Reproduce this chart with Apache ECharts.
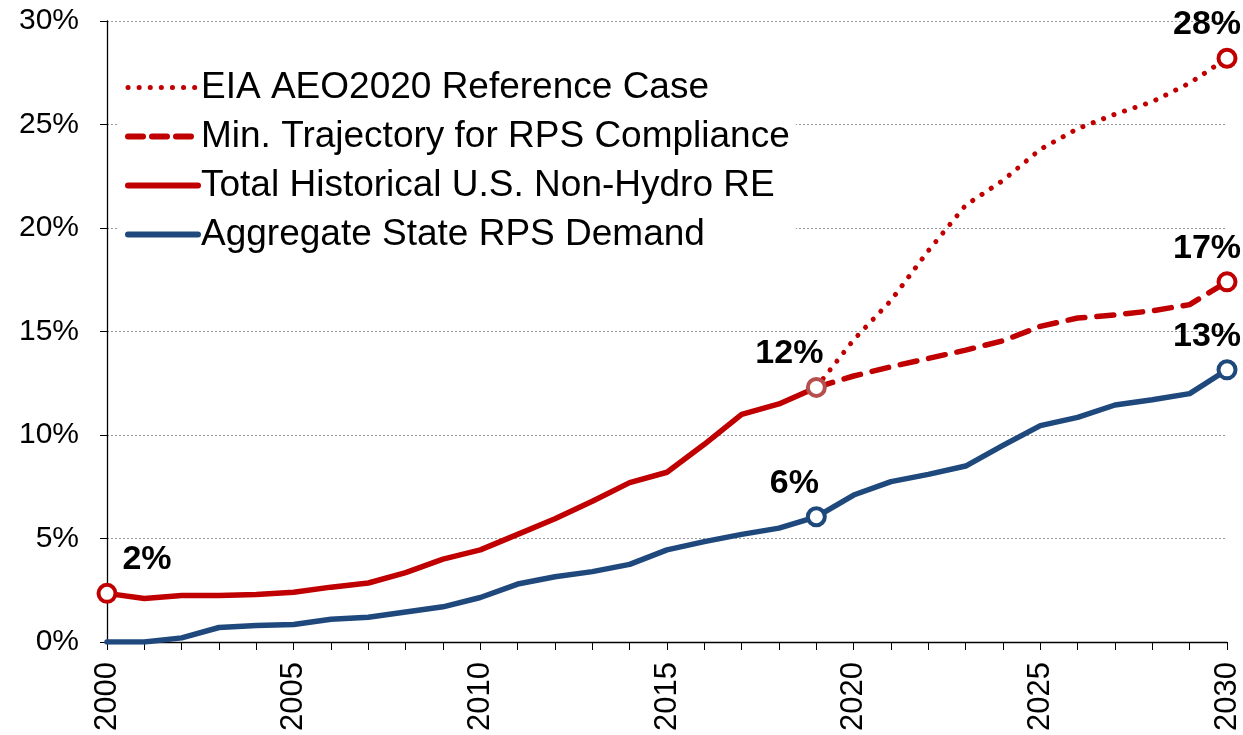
<!DOCTYPE html>
<html>
<head>
<meta charset="utf-8">
<script src="https://cdn.jsdelivr.net/npm/echarts@6/dist/echarts.min.js"></script>
<style>
  html, body { margin: 0; padding: 0; background: #fff; }
  #chart { width: 1243px; height: 735px; }
</style>
</head>
<body>
<div id="chart"></div>
<script>
// years on the x axis
const years = [];
for (let y = 2000; y <= 2030; y++) years.push(String(y));

// values in percent
const historicalRE = [2.35, 2.1, 2.25, 2.25, 2.3, 2.4, 2.65, 2.85, 3.35, 4.0, 4.45, 5.2, 5.95, 6.8, 7.7, 8.2, 9.55, 11.0, 11.5, 12.3];
const rpsDemand = [0, 0, 0.2, 0.7, 0.8, 0.85, 1.1, 1.2, 1.45, 1.7, 2.15, 2.8, 3.15, 3.4, 3.75, 4.45, 4.85, 5.2, 5.5, 6.05,
  7.1, 7.75, 8.1, 8.5, 9.5, 10.45, 10.85, 11.45, 11.7, 12.0, 13.15];
const minTrajectory = [12.3, 12.85, 13.3, 13.7, 14.1, 14.55, 15.25, 15.65, 15.8, 16.0, 16.3, 17.4];   // 2019-2030
const aeoReference = [12.3, 14.6, 16.5, 18.9, 21.1, 22.3, 23.8, 24.8, 25.5, 26.1, 27.0, 28.2];       // 2019-2030

const seriesNames = ['EIA AEO2020 Reference Case', 'Min. Trajectory for RPS Compliance', 'Total Historical U.S. Non-Hydro RE', 'Aggregate State RPS Demand'];
const yTicks = [0, 5, 10, 15, 20, 25, 30];

const RED = '#C00000';
const BLUE = '#1F497D';
const FONT = "'Liberation Sans', Arial, sans-serif";

// line styles, shared by series and legend
const solidLine = c => ({ color: c, width: 5.5, cap: 'round', join: 'round' });
const dashedLine = { color: RED, width: 5.5, type: [17, 12], cap: 'round', join: 'round' };
const dottedLine = { color: RED, width: 5, type: [0.1, 11], cap: 'round', join: 'round' };

// pad the projections so they begin at 2019
const pad = n => new Array(n).fill('-');
const minTrajData = pad(19).concat(minTrajectory);
const aeoData = pad(19).concat(aeoReference);

// labelled end points
function pointLabel(offsetX) {
  return {
    show: true,
    position: 'top',
    distance: 6,
    offset: [offsetX, 0],
    formatter: p => Math.round(p.value[1]) + '%',
    color: '#000',
    opacity: 1,
    fontFamily: FONT,
    fontWeight: 'bold',
    fontSize: 34
  };
}
function endPoint(year, value, color, offsetX) {
  return {
    value: [year, value],
    itemStyle: { color: '#fff', borderColor: color, borderWidth: 4, opacity: 1 },
    label: pointLabel(offsetX)
  };
}

const chart = echarts.init(document.getElementById('chart'));

const option = {
  animation: false,
  grid: { left: 107, right: 16, top: 21, bottom: 93 },
  legend: {
    data: [
      { name: seriesNames[0], lineStyle: dottedLine },
      { name: seriesNames[1], lineStyle: { color: RED, width: 6, type: [15, 9], cap: 'round' } },
      { name: seriesNames[2], lineStyle: Object.assign(solidLine(RED), { width: 6 }) },
      { name: seriesNames[3], lineStyle: Object.assign(solidLine(BLUE), { width: 6 }) }
    ],
    orient: 'vertical',
    left: 119,
    top: 67,
    itemWidth: 70,
    itemHeight: 12,
    itemGap: 12,
    padding: [2, 6],
    backgroundColor: '#fff',
    itemStyle: { opacity: 0 },
    textStyle: { fontFamily: FONT, fontSize: 37, color: '#000', padding: [0, 0, 0, -2] }
  },
  xAxis: {
    type: 'category',
    data: years,
    boundaryGap: false,
    axisLine: { lineStyle: { color: '#000', width: 1.3 } },
    axisTick: { show: true, interval: 0, length: 8, lineStyle: { color: '#000' } },
    axisLabel: {
      interval: 4,
      rotate: 90,
      margin: 20,
      fontFamily: FONT,
      fontSize: 31,
      color: '#000'
    },
    splitLine: { show: false }
  },
  yAxis: {
    type: 'value',
    min: yTicks[0],
    max: yTicks[yTicks.length - 1],
    interval: 5,
    axisLine: { show: true, lineStyle: { color: '#000', width: 1.3 } },
    axisTick: { show: true, length: 7, lineStyle: { color: '#000' } },
    axisLabel: {
      formatter: '{value}%',
      margin: 28,
      fontFamily: FONT,
      fontSize: 30,
      color: '#000'
    },
    splitLine: { show: true, lineStyle: { color: '#9a9a9a', width: 1, type: [2, 2] } }
  },
  series: [
    {
      name: seriesNames[3],
      type: 'line',
      data: rpsDemand,
      symbol: 'none',
      z: 3,
      lineStyle: solidLine(BLUE),
      itemStyle: { color: BLUE }
    },
    {
      name: seriesNames[2],
      type: 'line',
      data: historicalRE,
      symbol: 'none',
      z: 4,
      lineStyle: solidLine(RED),
      itemStyle: { color: RED }
    },
    {
      name: seriesNames[1],
      type: 'line',
      data: minTrajData,
      symbol: 'none',
      z: 4,
      lineStyle: dashedLine,
      itemStyle: { color: RED }
    },
    {
      name: seriesNames[0],
      type: 'line',
      data: aeoData,
      symbol: 'none',
      z: 4,
      lineStyle: dottedLine,
      itemStyle: { color: RED }
    },
    {
      type: 'scatter',
      symbol: 'circle',
      symbolSize: 17,
      z: 6,
      itemStyle: { opacity: 1 },
      data: [
        endPoint('2000', historicalRE[0], RED, 40),
        endPoint('2019', historicalRE[19], '#B5504F', -27),
        endPoint('2019', rpsDemand[19], BLUE, -22),
        endPoint('2030', aeoReference[11], RED, -20),
        endPoint('2030', minTrajectory[11], RED, -20),
        endPoint('2030', rpsDemand[30], BLUE, -20)
      ]
    }
  ]
};

chart.setOption(option);
</script>
</body>
</html>
